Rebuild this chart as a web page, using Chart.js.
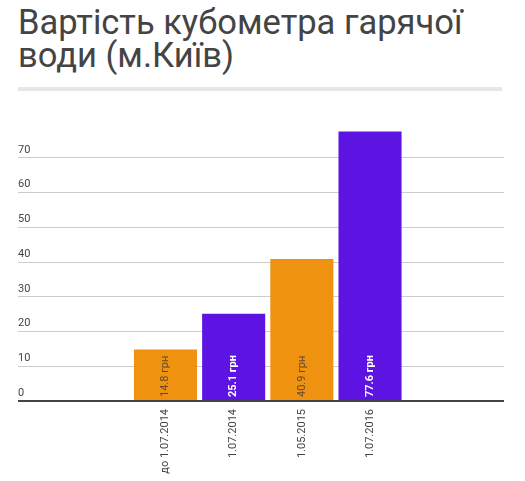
<!DOCTYPE html>
<html>
<head>
<meta charset="utf-8">
<script src="https://cdn.jsdelivr.net/npm/chart.js@4/dist/chart.umd.min.js"></script>
<style>
  html, body { margin: 0; padding: 0; background: #fff; }
  body { width: 525px; height: 481px; position: relative; overflow: hidden; font-family: Roboto, sans-serif; }
  h1 {
    position: absolute; left: 18px; top: 6px; margin: 0;
    font: 400 34.5px/33px Roboto, sans-serif; color: #444;
  }
  .rule { position: absolute; left: 18px; top: 87px; width: 484px; height: 4px; background: #e6e6e6; }
  #wrap { position: absolute; left: 0; top: 0; width: 525px; height: 481px; }
</style>
</head>
<body>
<h1>Вартість кубометра гарячої<br>води (м.Київ)</h1>
<div class="rule"></div>
<div id="wrap"><canvas id="chart"></canvas></div>
<script>
// дані з графіка
const categories = ['до 1.07.2014', '1.07.2014', '1.05.2015', '1.07.2016'];
const prices = [14.8, 25.1, 40.9, 77.6];
const priceLabels = ['14.8 грн', '25.1 грн', '40.9 грн', '77.6 грн'];
const yTickValues = [0, 10, 20, 30, 40, 50, 60, 70];

const ORANGE = '#ee9210';
const PURPLE = '#5d14e3';
const barColors = [ORANGE, PURPLE, ORANGE, PURPLE];

// підписи всередині стовпчиків (вертикально, знизу)
const barTextPlugin = {
  id: 'barText',
  afterDatasetsDraw(chart) {
    const ctx = chart.ctx;
    const meta = chart.getDatasetMeta(0);
    meta.data.forEach((bar, i) => {
      const isPurple = barColors[i] === PURPLE;
      ctx.save();
      ctx.translate(bar.x, bar.base - 3);
      ctx.rotate(-Math.PI / 2);
      ctx.font = (isPurple ? '700 ' : '400 ') + '11px Roboto, sans-serif';
      ctx.fillStyle = isPurple ? '#ffffff' : 'rgba(70,60,50,0.85)';
      ctx.textAlign = 'left';
      ctx.textBaseline = 'middle';
      ctx.fillText(priceLabels[i], 0, 0);
      ctx.restore();
    });
  }
};

const ctx = document.getElementById('chart').getContext('2d');
new Chart(ctx, {
  type: 'bar',
  data: {
    datasets: [{
      data: prices.map((v, i) => ({ x: i, y: v })),
      backgroundColor: barColors,
      borderWidth: 0,
      categoryPercentage: 1,
      barPercentage: 0.925
    }]
  },
  options: {
    responsive: true,
    maintainAspectRatio: false,
    animation: false,
    layout: { padding: { top: 130, left: 18, right: 21, bottom: 0 } },
    plugins: {
      legend: { display: false },
      tooltip: { enabled: false }
    },
    scales: {
      x: {
        type: 'linear',
        offset: false,
        min: -2.163,
        max: 4.965,
        grid: { display: false, drawTicks: false },
        border: { display: false },
        afterBuildTicks: (scale) => {
          scale.ticks = categories.map((c, i) => ({ value: i }));
        },
        afterFit: (scale) => { scale.height = 80; },
        ticks: {
          autoSkip: false,
          minRotation: 90,
          maxRotation: 90,
          padding: 8,
          color: '#444',
          font: { family: 'Roboto', size: 11 },
          callback: (v) => categories[v]
        }
      },
      y: {
        min: 0,
        max: 78,
        afterBuildTicks: (scale) => {
          scale.ticks = yTickValues.map(v => ({ value: v }));
        },
        afterFit: (scale) => { scale.width = 0; },
        border: { display: false },
        grid: {
          drawTicks: false,
          color: (c) => c.tick && c.tick.value === 0 ? '#444' : '#cccccc',
          lineWidth: (c) => c.tick && c.tick.value === 0 ? 2 : 1
        },
        ticks: {
          mirror: true,
          padding: 0,
          labelOffset: -8,
          color: '#444',
          font: { family: 'Roboto', size: 11 }
        }
      }
    }
  },
  plugins: [barTextPlugin]
});
</script>
</body>
</html>
